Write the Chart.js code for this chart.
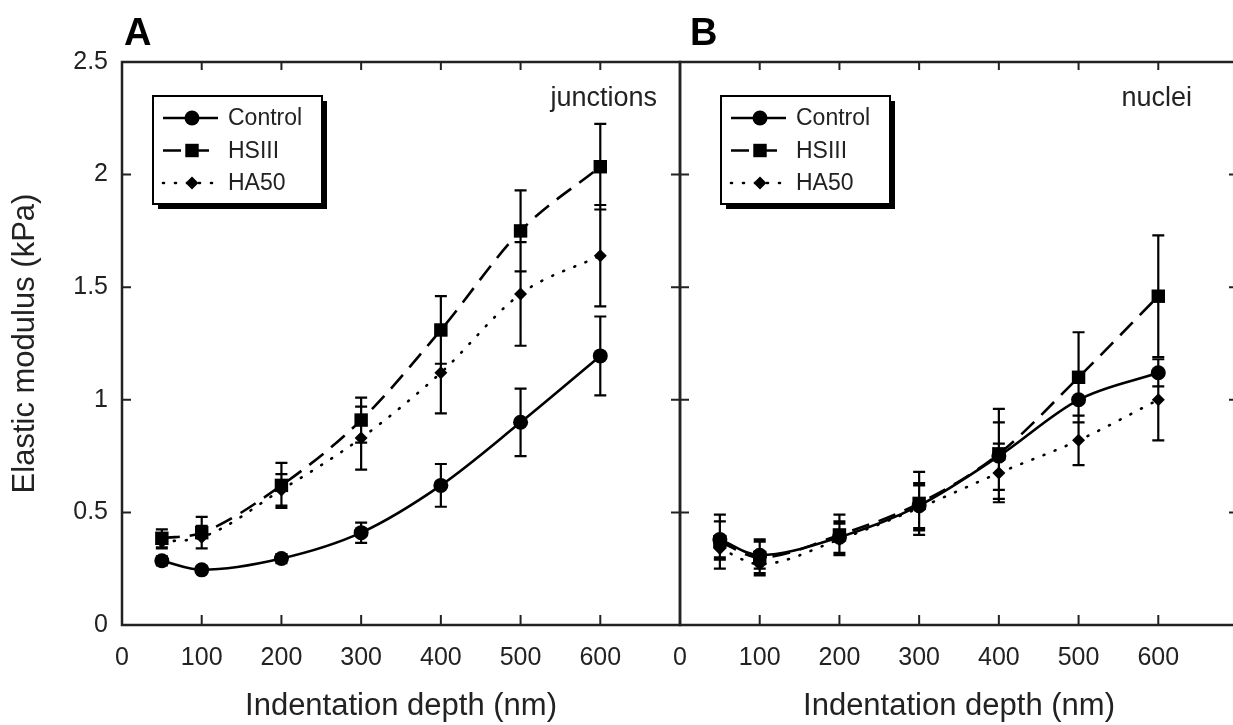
<!DOCTYPE html>
<html>
<head>
<meta charset="utf-8">
<script src="https://cdn.jsdelivr.net/npm/chart.js@4.4.1/dist/chart.umd.min.js"></script>
<style>
  html, body { margin: 0; padding: 0; background: #fff; overflow: hidden; }
  #wrap { position: relative; width: 1233px; height: 725px; overflow: hidden; }
  canvas { position: absolute; top: 0; }
  #chartA { left: 0; }
  #chartB { left: 600px; }
</style>
</head>
<body>
<div id="wrap">
  <canvas id="chartA" width="700" height="725"></canvas>
  <canvas id="chartB" width="680" height="725"></canvas>
</div>
<script>
// data
const depths = [50, 100, 200, 300, 400, 500, 600];
const xTicks = [0, 100, 200, 300, 400, 500, 600];
const yTicks = [0, 0.5, 1, 1.5, 2, 2.5];
const seriesNames = ['Control', 'HSIII', 'HA50'];

// panel A - junctions
const controlA = [0.285, 0.245, 0.295, 0.41, 0.62, 0.90, 1.195];
const controlAErr = [0.02, 0.015, 0.02, 0.045, 0.095, 0.15, 0.175];
const hsiiiA = [0.385, 0.41, 0.62, 0.91, 1.31, 1.75, 2.035];
const hsiiiAErr = [0.04, 0.07, 0.10, 0.10, 0.15, 0.18, 0.19];
const ha50A = [0.37, 0.39, 0.60, 0.83, 1.12, 1.47, 1.64];
const ha50AErr = [0.03, 0.05, 0.07, 0.14, 0.18, 0.23, 0.225];

// panel B - nuclei
const controlB = [0.38, 0.31, 0.39, 0.53, 0.75, 1.00, 1.12];
const controlBErr = [0.08, 0.06, 0.07, 0.10, 0.15, 0.10, 0.06];
const hsiiiB = [0.37, 0.30, 0.40, 0.54, 0.76, 1.10, 1.46];
const hsiiiBErr = [0.12, 0.08, 0.09, 0.14, 0.20, 0.20, 0.27];
const ha50B = [0.34, 0.27, 0.38, 0.52, 0.675, 0.82, 1.00];
const ha50BErr = [0.05, 0.04, 0.07, 0.10, 0.13, 0.11, 0.18];

const FONT = '"Liberation Sans", Arial, Helvetica, sans-serif';
Chart.defaults.font.family = FONT;
Chart.defaults.color = '#222';

const seriesStyle = [
  { borderDash: [], borderCapStyle: 'butt', pointStyle: 'circle', pointRadius: 7.5 },
  { borderDash: [18, 10], borderCapStyle: 'butt', pointStyle: 'rect', pointRadius: 9.5 },
  { borderDash: [1, 11], borderCapStyle: 'round', pointStyle: 'rectRot', pointRadius: 6.5 }
];

function makeDatasets(values, errors) {
  return seriesNames.map((name, i) => ({
    label: name,
    data: depths.map((d, j) => ({ x: d, y: values[i][j] })),
    errorBars: errors[i],
    borderColor: '#000',
    backgroundColor: '#000',
    borderWidth: 2.6,
    pointBackgroundColor: '#000',
    pointBorderColor: '#000',
    pointBorderWidth: 0,
    fill: false,
    tension: 0.4,
    cubicInterpolationMode: 'monotone',
    ...seriesStyle[i]
  }));
}

function marker(ctx, style, r, x, y) {
  ctx.beginPath();
  if (style === 'rect') {
    const s = r * Math.SQRT1_2;
    ctx.rect(x - s, y - s, 2 * s, 2 * s);
  } else if (style === 'rectRot') {
    ctx.moveTo(x - r, y); ctx.lineTo(x, y - r);
    ctx.lineTo(x + r, y); ctx.lineTo(x, y + r);
    ctx.closePath();
  } else {
    ctx.arc(x, y, r, 0, Math.PI * 2);
  }
  ctx.fill();
}

// frame, inward ticks, error bars, legend box and labels
const panelDecor = {
  id: 'panelDecor',
  afterDatasetsDraw(chart, args, opts) {
    const ctx = chart.ctx;
    const { left, right, top, bottom } = chart.chartArea;
    const xs = chart.scales.x, ys = chart.scales.y;
    ctx.save();
    ctx.strokeStyle = '#000';
    ctx.fillStyle = '#000';

    // error bars
    ctx.lineWidth = 2.2;
    ctx.setLineDash([]);
    ctx.beginPath();
    chart.data.datasets.forEach(ds => {
      ds.data.forEach((p, j) => {
        const e = ds.errorBars[j];
        const px = xs.getPixelForValue(p.x);
        const py1 = ys.getPixelForValue(p.y + e);
        const py2 = ys.getPixelForValue(p.y - e);
        ctx.moveTo(px, py1); ctx.lineTo(px, py2);
        ctx.moveTo(px - 6, py1); ctx.lineTo(px + 6, py1);
        ctx.moveTo(px - 6, py2); ctx.lineTo(px + 6, py2);
      });
    });
    ctx.stroke();

    // frame
    ctx.lineWidth = 2.5;
    ctx.strokeStyle = '#222';
    ctx.strokeRect(left, top, right - left, bottom - top);

    // inward ticks
    ctx.lineWidth = 2;
    ctx.beginPath();
    xs.ticks.forEach(t => {
      if (t.value <= 0) return;
      const px = xs.getPixelForValue(t.value);
      ctx.moveTo(px, bottom); ctx.lineTo(px, bottom - 10);
      ctx.moveTo(px, top); ctx.lineTo(px, top + 8);
    });
    ys.ticks.forEach(t => {
      if (t.value <= 0 || t.value >= 2.5) return;
      const py = ys.getPixelForValue(t.value);
      ctx.moveTo(left, py); ctx.lineTo(left + 9, py);
      ctx.moveTo(right, py); ctx.lineTo(right - 9, py);
    });
    ctx.stroke();

    // legend box with drop shadow
    const bx = left + opts.legendDx, by = top + 34, bw = 169, bh = 108;
    ctx.fillStyle = '#000';
    ctx.fillRect(bx + 5, by + 5, bw, bh);
    ctx.fillStyle = '#fff';
    ctx.fillRect(bx, by, bw, bh);
    ctx.lineWidth = 2;
    ctx.strokeStyle = '#000';
    ctx.strokeRect(bx, by, bw, bh);
    chart.data.datasets.forEach((ds, i) => {
      const ry = by + 22 + i * 32.5;
      ctx.lineWidth = ds.borderWidth;
      ctx.setLineDash(ds.borderDash);
      ctx.lineCap = ds.borderCapStyle;
      ctx.beginPath();
      ctx.moveTo(bx + 10, ry); ctx.lineTo(bx + 65, ry);
      ctx.stroke();
      ctx.setLineDash([]);
      ctx.lineCap = 'butt';
      ctx.fillStyle = '#000';
      marker(ctx, ds.pointStyle, ds.pointRadius, bx + 39, ry);
      ctx.fillStyle = '#222';
      ctx.font = '23px ' + FONT;
      ctx.textAlign = 'left';
      ctx.textBaseline = 'middle';
      ctx.fillText(ds.label, bx + 75, ry + 1);
    });

    // region note and panel letter
    ctx.fillStyle = '#222';
    ctx.font = '27px ' + FONT;
    ctx.textAlign = 'right';
    ctx.textBaseline = 'alphabetic';
    ctx.fillText(opts.note, opts.noteRight, 106);
    ctx.fillStyle = '#000';
    ctx.font = 'bold 38px ' + FONT;
    ctx.textAlign = 'left';
    ctx.fillText(opts.letter, opts.letterX, 45);
    ctx.restore();
  }
};

function makeOptions(isA) {
  return {
    responsive: false,
    animation: false,
    layout: { padding: isA ? { top: 62, right: 20, left: 0, bottom: 0 } : { top: 62, right: 42, left: 80, bottom: 0 } },
    plugins: {
      legend: { display: false },
      tooltip: { enabled: false },
      panelDecor: isA
        ? { letter: 'A', letterX: 124, note: 'junctions', noteRight: 657, legendDx: 31 }
        : { letter: 'B', letterX: 90, note: 'nuclei', noteRight: 592, legendDx: 41 }
    },
    scales: {
      x: {
        type: 'linear',
        min: 0,
        max: 700,
        afterBuildTicks: s => { s.ticks = xTicks.map(v => ({ value: v })); },
        afterFit: s => { s.height = 100; },
        grid: { display: false, drawTicks: false },
        border: { display: false },
        ticks: { color: '#222', font: { size: 25 }, padding: 18, maxRotation: 0, autoSkip: false, callback: v => String(v) },
        title: { display: true, text: 'Indentation depth (nm)', color: '#222', font: { size: 31 }, padding: { top: 0, bottom: 0 } }
      },
      y: {
        display: isA,
        min: 0,
        max: 2.5,
        afterBuildTicks: s => { s.ticks = yTicks.map(v => ({ value: v })); },
        afterFit: s => { s.width = isA ? 122 : 0; },
        grid: { display: false, drawTicks: false },
        border: { display: false },
        ticks: { color: '#222', font: { size: 25 }, padding: 14, callback: v => String(v) },
        title: { display: true, text: 'Elastic modulus (kPa)', color: '#222', font: { size: 31 }, padding: { top: 7, bottom: 0 } }
      }
    }
  };
}

new Chart(document.getElementById('chartA'), {
  type: 'line',
  data: { datasets: makeDatasets([controlA, hsiiiA, ha50A], [controlAErr, hsiiiAErr, ha50AErr]) },
  options: makeOptions(true),
  plugins: [panelDecor]
});

new Chart(document.getElementById('chartB'), {
  type: 'line',
  data: { datasets: makeDatasets([controlB, hsiiiB, ha50B], [controlBErr, hsiiiBErr, ha50BErr]) },
  options: makeOptions(false),
  plugins: [panelDecor]
});
</script>
</body>
</html>
